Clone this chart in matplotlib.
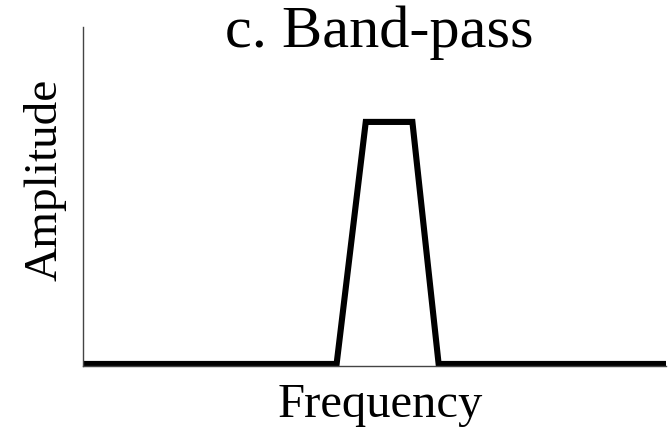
import matplotlib
matplotlib.use("Agg")
import matplotlib.pyplot as plt

# band-pass response (frequency in arbitrary units, amplitude relative)
freq = [0, 43.5, 48.5, 56.5, 61, 100]
amp = [0.006, 0.006, 0.72, 0.72, 0.006, 0.006]

title = "c. Band-pass"
xlabel = "Frequency"
ylabel = "Amplitude"

plt.rcParams["font.family"] = ["Liberation Serif", "DejaVu Serif"]

fig = plt.figure(figsize=(6.69, 4.32), dpi=100)
ax = fig.add_axes([83 / 669, 66 / 432, 583 / 669, 339 / 432])

ax.plot(freq, amp, color="black", linewidth=4.4, solid_joinstyle="miter",
        solid_capstyle="butt", clip_on=False)
ax.set_xlim(0, 100)
ax.set_ylim(0, 1)

for side in ("top", "right"):
    ax.spines[side].set_visible(False)
for side in ("left", "bottom"):
    ax.spines[side].set_color("#444444")
    ax.spines[side].set_linewidth(1.0)
ax.set_xticks([])
ax.set_yticks([])

fig.text(379 / 669, 1 - 47 / 432, title, fontsize=43.5, ha="center", va="baseline")
fig.text(380 / 669, 1 - 417 / 432, xlabel, fontsize=35, ha="center", va="baseline")
fig.text(45 / 669, 1 - 180 / 432, ylabel, fontsize=34, rotation=90,
         ha="center", va="center")

fig.savefig("out.png", dpi=100)
